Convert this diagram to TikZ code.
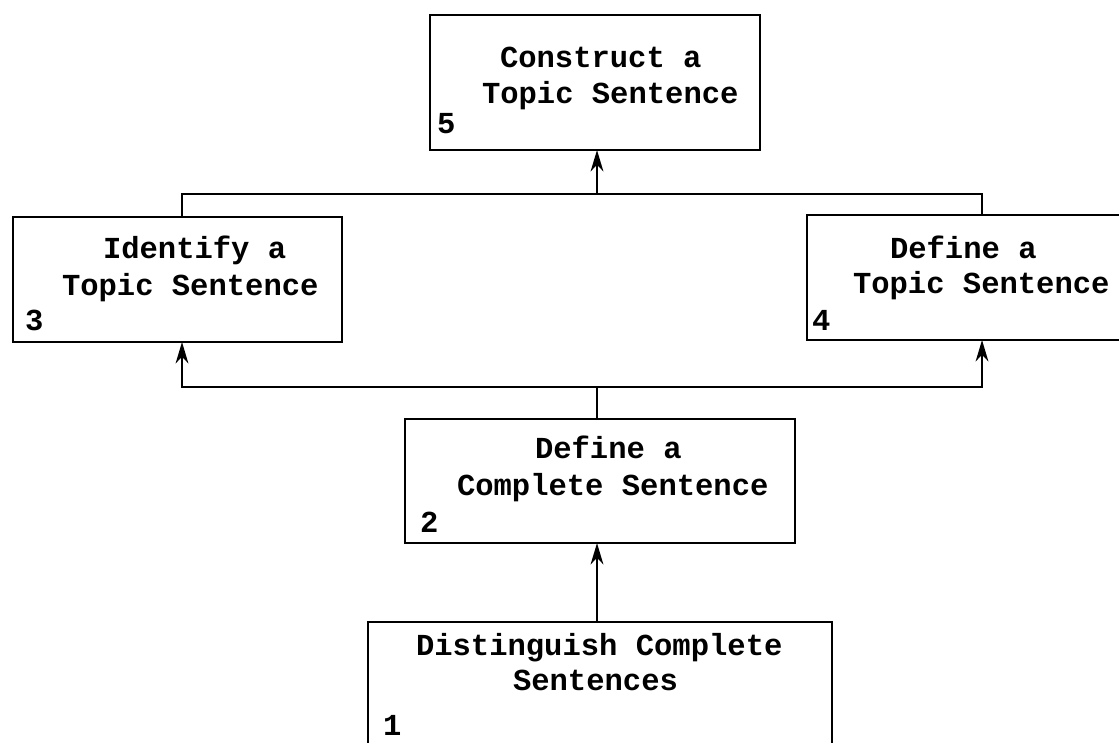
\documentclass[tikz,border=0pt]{standalone}
\usepackage{fontspec}
\setmonofont{Liberation Mono}
\usetikzlibrary{arrows.meta}
\begin{document}
\begin{tikzpicture}[x=0.75pt,y=-0.75pt,
  box/.style={draw,line width=2.2pt,inner sep=0pt,outer sep=0pt},
  lbl/.style={anchor=base west,inner sep=0pt,outer sep=0pt,font=\ttfamily\bfseries\fontsize{22.9}{26}\selectfont},
  link/.style={line width=2.1pt},
  arr/.style={link,-{Stealth[length=16pt,width=9.5pt,inset=5pt]}}]
\useasboundingbox (0,0) rectangle (1119,742);
\clip (0,0) rectangle (1119,742);
% boxes
\node[box,minimum width=247.5pt,minimum height=101.25pt] (b5) at (595,82.5) {};
\node[box,minimum width=246.75pt,minimum height=93.75pt] (b3) at (177.5,279.5) {};
\node[box,minimum width=242.25pt,minimum height=93.75pt] (b4) at (968.5,277.5) {};
\node[box,minimum width=292.5pt,minimum height=93pt] (b2) at (600,481) {};
\node[box,minimum width=348pt,minimum height=111pt] (b1) at (600,696) {};
% texts
\node[lbl] (t5a) at (500,67) {Construct a};
\node[lbl] (t5b) at (482,103) {Topic Sentence};
\node[lbl] (n5) at (437,133) {5};
\node[lbl] (t3a) at (103,258) {Identify a};
\node[lbl] (t3b) at (62,295) {Topic Sentence};
\node[lbl] (n3) at (25,330) {3};
\node[lbl] (t4a) at (890,258) {Define a};
\node[lbl] (t4b) at (853,293) {Topic Sentence};
\node[lbl] (n4) at (812,330) {4};
\node[lbl] (t2a) at (535,458) {Define a};
\node[lbl] (t2b) at (457,495) {Complete Sentence};
\node[lbl] (n2) at (420,532) {2};
\node[lbl] (t1a) at (416,655) {Distinguish Complete};
\node[lbl] (t1b) at (513,690) {Sentences};
\node[lbl] (n1) at (383,735) {1};
% junctions
\coordinate (jt) at (597,194);
\coordinate (jb) at (597,387);
\coordinate (cl) at (182,0);
\coordinate (cr) at (982,0);
% connectors
\draw[link] (cl |- b3.north) |- (jt) -| (cr |- b4.north);
\draw[arr] (jt) -- (jt |- b5.south);
\draw[link] (jb |- b2.north) -- (jb);
\draw[arr] (jb) -| (cl |- b3.south);
\draw[arr] (jb) -| (cr |- b4.south);
\draw[arr] (jb |- b1.north) -- (jb |- b2.south);
\end{tikzpicture}
\end{document}
